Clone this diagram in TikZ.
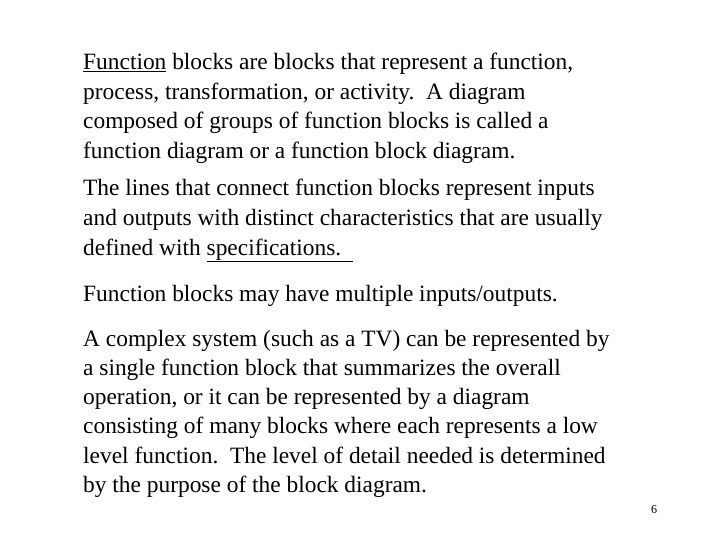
\documentclass[tikz,border=0pt]{standalone}
\usepackage{fontspec}
\setmainfont{Liberation Serif}
\tikzset{ln/.style={anchor=base west,inner sep=0pt,font=\fontsize{23.4}{27}\selectfont}}
\begin{document}
\begin{tikzpicture}[x=1pt,y=-1pt]
\useasboundingbox (0,0) rectangle (720,540);
\node[ln] (a1) at (83,70) {\underline{Function} blocks are blocks that represent a function,};
\node[ln] (a2) at (83,99.5) {process, transformation, or activity.\ \ A diagram};
\node[ln] (a3) at (83,129) {composed of groups of function blocks is called a};
\node[ln] (a4) at (83,158.5) {function diagram or a function block diagram.};
\node[ln] (b1) at (83,196) {The lines that connect function blocks represent inputs};
\node[ln] (b2) at (83,225.5) {and outputs with distinct characteristics that are usually};
\node[ln] (b3) at (83,255) {defined with \underline{specifications.\ \ }};
\node[ln] (c1) at (83,301) {Function blocks may have multiple inputs/outputs.};
\node[ln] (d1) at (83,346) {A complex system (such as a TV) can be represented by};
\node[ln] (d2) at (83,375.3) {a single function block that summarizes the overall};
\node[ln] (d3) at (83,404.6) {operation, or it can be represented by a diagram};
\node[ln] (d4) at (83,433.9) {consisting of many blocks where each represents a low};
\node[ln] (d5) at (83,463.2) {level function.\ \ The level of detail needed is determined};
\node[ln] (d6) at (83,492.5) {by the purpose of the block diagram.};
\node[anchor=base west,inner sep=0pt,font=\fontsize{12}{14}\selectfont] (pg) at (651,513) {6};
\end{tikzpicture}
\end{document}
